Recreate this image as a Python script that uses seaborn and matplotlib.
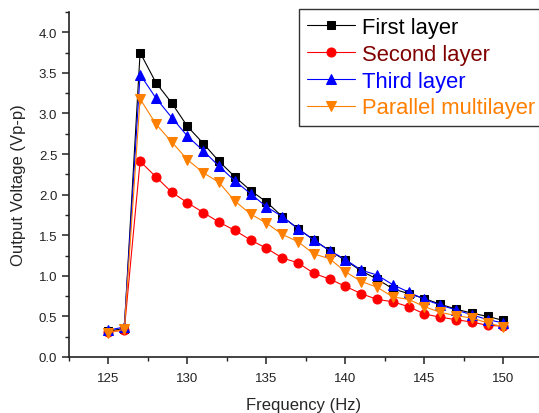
import matplotlib
matplotlib.use("Agg")
import matplotlib.pyplot as plt
import seaborn as sns
import numpy as np
import pandas as pd
from matplotlib.ticker import MultipleLocator

freq = list(range(125, 151))
first_layer = [0.32, 0.35, 3.75, 3.38, 3.13, 2.84, 2.63, 2.41, 2.22, 2.05, 1.91, 1.73, 1.58,
               1.44, 1.31, 1.19, 1.06, 0.96, 0.84, 0.78, 0.72, 0.65, 0.59, 0.54, 0.50, 0.45]
second_layer = [0.31, 0.33, 2.41, 2.22, 2.03, 1.90, 1.78, 1.66, 1.56, 1.44, 1.34, 1.22, 1.16,
                1.03, 0.96, 0.87, 0.78, 0.71, 0.68, 0.62, 0.53, 0.49, 0.46, 0.43, 0.39, 0.38]
third_layer = [0.33, 0.37, 3.48, 3.19, 2.95, 2.72, 2.54, 2.35, 2.17, 2.01, 1.85, 1.73, 1.58,
               1.44, 1.31, 1.20, 1.07, 1.01, 0.89, 0.80, 0.71, 0.64, 0.58, 0.52, 0.46, 0.42]
parallel = [0.30, 0.34, 3.18, 2.87, 2.65, 2.43, 2.27, 2.15, 1.92, 1.76, 1.65, 1.51, 1.42,
            1.27, 1.21, 1.05, 0.93, 0.86, 0.74, 0.71, 0.62, 0.55, 0.51, 0.48, 0.42, 0.37]

series_names = ["First layer", "Second layer", "Third layer", "Parallel multilayer"]
series_values = [first_layer, second_layer, third_layer, parallel]

sns.set_style("ticks")
plt.rcParams['font.family'] = ['Liberation Sans', 'DejaVu Sans']

fig = plt.figure(figsize=(5.39, 4.14), dpi=100)
ax = fig.add_axes([69/539, 1 - 358/414, 1 - 69/539, (358 - 13)/414])

colors = ["#000000", "#FF0000", "#0000FF", "#FF7F00"]
markers = ["s", "o", "^", "v"]
msizes = [6, 6.5, 7.5, 7.5]
text_colors = ["#000000", "#800000", "#0000FF", "#FF7F00"]

for name, vals, c, m, ms in zip(series_names, series_values, colors, markers, msizes):
    sns.lineplot(x=freq, y=vals, ax=ax, color=c, marker=m, markersize=ms,
                 markeredgecolor=c, linewidth=0.8, label=name)

ax.set_xlim(122.5, 152.25)
ax.set_ylim(0, 4.25)
ax.xaxis.set_major_locator(MultipleLocator(5))
ax.xaxis.set_minor_locator(MultipleLocator(2.5))
ax.yaxis.set_major_locator(MultipleLocator(0.5))
ax.yaxis.set_minor_locator(MultipleLocator(0.25))
ax.yaxis.set_major_formatter(matplotlib.ticker.FormatStrFormatter('%.1f'))

for s in ["top", "right"]:
    ax.spines[s].set_visible(False)
for s in ["left", "bottom"]:
    ax.spines[s].set_linewidth(1.2)
    ax.spines[s].set_color("#222222")

ax.tick_params(which="major", direction="out", length=5, width=1.1, labelsize=9.5, colors="#222222")
ax.tick_params(axis="x", which="major", pad=6)
ax.tick_params(which="minor", direction="out", length=3, width=1.0, colors="#222222")

ax.set_xlabel("Frequency (Hz)", fontsize=12, labelpad=9)
ax.set_ylabel("Output Voltage (Vp-p)", fontsize=12, labelpad=9)

leg = ax.legend(loc="upper left", bbox_to_anchor=(299/539, 1 - 10/414),
                bbox_transform=fig.transFigure, fontsize=15.8, frameon=True,
                fancybox=False, edgecolor="#000000", handlelength=2.2,
                handletextpad=0.32, borderpad=0.35, labelspacing=0.27, borderaxespad=0)
leg.get_frame().set_linewidth(1.0)
for t, tc in zip(leg.get_texts(), text_colors):
    t.set_color(tc)

fig.savefig("out.png", dpi=100)
